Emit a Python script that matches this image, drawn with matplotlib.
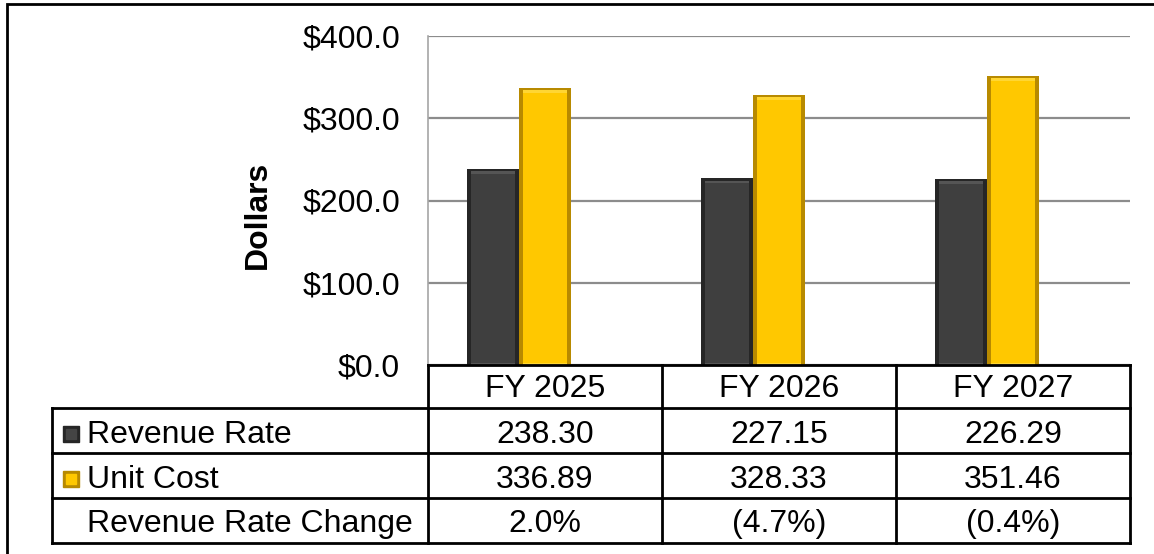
import matplotlib.pyplot as plt
from matplotlib.patches import Rectangle
from matplotlib.lines import Line2D

plt.rcParams['font.family'] = ['Liberation Sans', 'DejaVu Sans']

# ----------------------------
# データ
# ----------------------------
years = ["FY 2025", "FY 2026", "FY 2027"]
revenue_rate = [238.30, 227.15, 226.29]
unit_cost = [336.89, 328.33, 351.46]
rate_change = [2.0, -4.7, -0.4]
y_ticks = [0, 100, 200, 300, 400]

W, H = 1154, 554
fig = plt.figure(figsize=(W / 100, H / 100), dpi=100)


def fx(px):
    return px / W


def fy(py):
    return 1 - py / H


# 外枠
fig.add_artist(Rectangle((fx(7), fy(600)), fx(1200), fy(4) - fy(600),
                         transform=fig.transFigure, fill=False,
                         edgecolor="black", linewidth=2))

# プロット領域
ax = fig.add_axes([fx(428), fy(365), fx(1130) - fx(428), fy(36) - fy(365)])
ax.set_xlim(-0.5, len(years) - 0.5)
ax.set_ylim(0, 400)
ax.set_yticks(y_ticks)
ax.set_yticklabels([f"${v:.1f}" for v in y_ticks], fontsize=23)
ax.tick_params(axis="y", length=0, pad=20)
ax.set_xticks([])
ax.grid(axis="y", color="#8c8c8c", linewidth=1.6)
ax.set_axisbelow(True)
for s in ["top", "right", "bottom"]:
    ax.spines[s].set_visible(False)
ax.spines["left"].set_color("#a6a6a6")
ax.spines["left"].set_linewidth(1.2)

bw = 0.222
xs = list(range(len(years)))
x_rev = [x - bw for x in xs]

# 棒（ベベル風に外側と内側を重ねる）
ax.bar(x_rev, revenue_rate, width=bw, color="#262626", zorder=2)
ax.bar(x_rev, [v - 3 for v in revenue_rate], width=bw * 0.84, color="#555555",
       zorder=3)
ax.bar(x_rev, [v - 9 for v in revenue_rate], width=bw * 0.84, bottom=3,
       color="#3f3f3f", zorder=4)

ax.bar(xs, unit_cost, width=bw, color="#b88a00", zorder=2)
ax.bar(xs, [v - 3 for v in unit_cost], width=bw * 0.84, color="#ffd633",
       zorder=3)
ax.bar(xs, [v - 9 for v in unit_cost], width=bw * 0.84, bottom=3,
       color="#ffc800", zorder=4)

# Y軸ラベル
fig.text(fx(258), fy(215), "Dollars", rotation=90, fontsize=23,
         fontweight="bold", ha="center", va="center")

# ----------------------------
# データテーブル
# ----------------------------
col_x = [428, 662, 896, 1130]
row_y = [365, 408, 453, 498, 543]
base_y = [397, 443, 488, 532]  # 各行の文字ベースライン
lw = 2


def hline(x0, x1, y):
    fig.add_artist(Line2D([fx(x0), fx(x1)], [fy(y), fy(y)],
                          transform=fig.transFigure, color="black", linewidth=lw))


def vline(x, y0, y1):
    fig.add_artist(Line2D([fx(x), fx(x)], [fy(y0), fy(y1)],
                          transform=fig.transFigure, color="black", linewidth=lw))


hline(428, 1130, 365)
for y in row_y[1:]:
    hline(52, 1130, y)
for x in col_x:
    vline(x, 365, 543)
vline(52, 408, 543)

for i, name in enumerate(years):
    cx = (col_x[i] + col_x[i + 1]) / 2
    c = rate_change[i]
    txt = f"{c:.1f}%" if c >= 0 else f"({abs(c):.1f}%)"
    cells = [name, f"{revenue_rate[i]:.2f}", f"{unit_cost[i]:.2f}", txt]
    for k, s in enumerate(cells):
        fig.text(fx(cx), fy(base_y[k]), s, fontsize=23, ha="center",
                 va="baseline")

labels = ["Revenue Rate", "Unit Cost", "Revenue Rate Change"]
for j, lab in enumerate(labels):
    fig.text(fx(87), fy(base_y[j + 1]), lab, fontsize=23, ha="left",
             va="baseline")

# 凡例マーカー
for j, (c_out, c_in) in enumerate([("#262626", "#444444"), ("#b88a00", "#ffc800")]):
    yc = base_y[j + 1] - 9
    fig.add_artist(Rectangle((fx(63), fy(yc + 8)), fx(16), fy(yc - 8) - fy(yc + 8),
                             transform=fig.transFigure, color=c_out))
    fig.add_artist(Rectangle((fx(66), fy(yc + 5)), fx(10), fy(yc - 5) - fy(yc + 5),
                             transform=fig.transFigure, color=c_in))

fig.savefig("out.png", dpi=100)
